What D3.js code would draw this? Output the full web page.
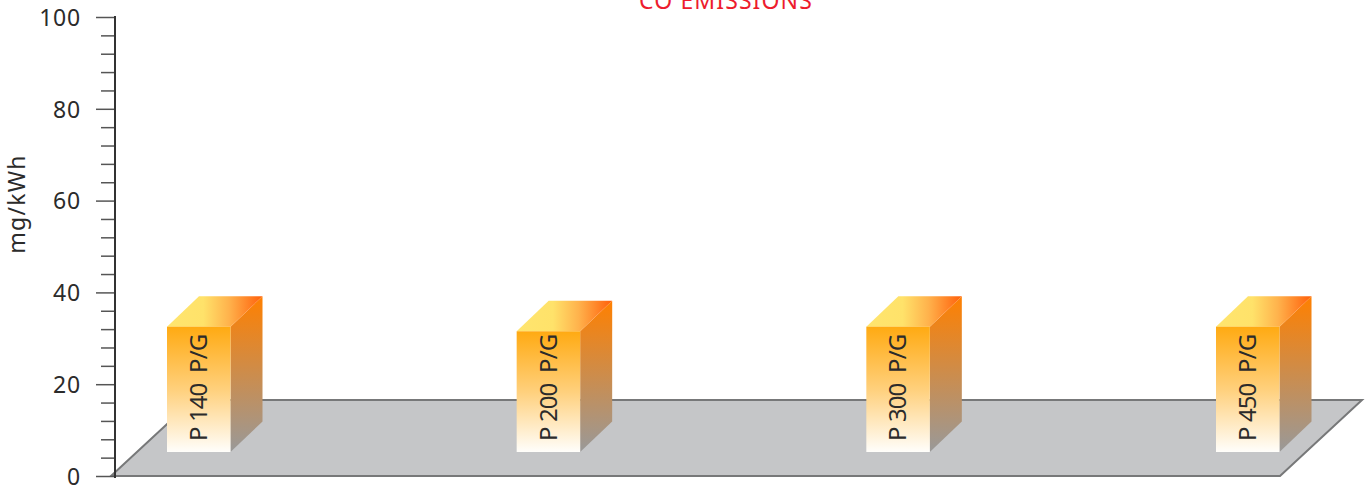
<!DOCTYPE html>
<html><head><meta charset="utf-8">
<script src="https://cdnjs.cloudflare.com/ajax/libs/d3/7.8.5/d3.min.js"></script>
<style>html,body{margin:0;padding:0;background:#fff;overflow:hidden}svg{display:block}text{font-family:"Noto Sans",sans-serif;fill:#2b2b2b}</style>
</head><body><div id="c"></div>
<script>
const categories=["P 140  P/G","P 200  P/G","P 300  P/G","P 450  P/G"];
const values=[27.3,26.3,27.3,27.3];
const majorTicks=[0,20,40,60,80,100];
const minorTicks=[4,8,12,16,24,28,32,36,44,48,52,56,64,68,72,76,84,88,92,96];
const titleText="CO EMISSIONS";
const yAxisLabel="mg/kWh";

const W=1370,H=485,barW=63.5,depthX=32,depthY=30.5,baseShift=24;
const svg=d3.select("#c").append("svg").attr("width",W).attr("height",H);
const y=d3.scaleLinear().domain([0,100]).range([476,17]);
const x=d3.scalePoint().domain(categories).range([167,1216]);

const defs=svg.append("defs");
function grad(id,x2,y2,stops){
  const g=defs.append("linearGradient").attr("id",id).attr("x1",0).attr("y1",0).attr("x2",x2).attr("y2",y2);
  stops.forEach(s=>g.append("stop").attr("offset",s[0]).attr("stop-color",s[1]));
}
grad("front",0,1,[[0,"#ffaa12"],[0.5,"#ffd07c"],[1,"#fffefb"]]);
grad("side",0,1,[[0,"#ff8000"],[1,"#999999"]]);
grad("top",1,0,[[0,"#ffe56e"],[0.38,"#ffe26a"],[0.65,"#ffb24c"],[1,"#ff5f0a"]]);

// floor
svg.append("path")
  .attr("d",d3.line()([[111,y(0)],[1280,y(0)],[1362,400],[193,400]])+"Z")
  .attr("fill","#c5c6c8").attr("stroke","#777879").attr("stroke-width",2).attr("stroke-linejoin","miter");

// axes
const major=d3.axisLeft(y).tickValues(majorTicks).tickSize(19).tickPadding(15).tickFormat(d3.format("d"));
const gMaj=svg.append("g").attr("transform","translate(115,0)").call(major);
gMaj.select(".domain").remove();
gMaj.selectAll("line").attr("stroke","#555").attr("stroke-width",1.5);
gMaj.selectAll("text").attr("font-size",23).attr("fill","#2b2b2b").attr("letter-spacing",0.8).attr("dy","0.36em");
const minor=d3.axisLeft(y).tickValues(minorTicks).tickSize(14).tickFormat("");
const gMin=svg.append("g").attr("transform","translate(115,0)").call(minor);
gMin.select(".domain").remove();
gMin.selectAll("line").attr("stroke","#555").attr("stroke-width",1.5);
svg.append("line").attr("x1",115).attr("x2",115).attr("y1",y(100)-1).attr("y2",y(0)+2).attr("stroke","#333").attr("stroke-width",2);

// bars
const bars=svg.selectAll("g.bar").data(categories.map((c,i)=>({c,v:values[i]}))).enter().append("g").attr("class","bar");
const line=d3.line();
bars.append("path").attr("fill","url(#side)").attr("d",d=>{
  const l=x(d.c)+barW,b=y(0)-baseShift,t=b-(y(0)-y(d.v));
  return line([[l,t],[l+depthX,t-depthY],[l+depthX,b-depthY],[l,b]])+"Z";
});
bars.append("path").attr("fill","url(#top)").attr("d",d=>{
  const l=x(d.c),b=y(0)-baseShift,t=b-(y(0)-y(d.v));
  return line([[l,t],[l+depthX,t-depthY],[l+barW+depthX,t-depthY],[l+barW,t]])+"Z";
});
bars.append("rect").attr("fill","url(#front)")
  .attr("x",d=>x(d.c)).attr("width",barW)
  .attr("y",d=>y(d.v)-baseShift).attr("height",d=>y(0)-y(d.v));
bars.append("text").attr("font-size",24).attr("letter-spacing",-0.9).attr("fill","#2b2b2b").attr("xml:space","preserve").style("white-space","pre")
  .attr("transform",d=>`translate(${x(d.c)+40},441) rotate(-90)`).text(d=>d.c);

// titles
svg.append("text").attr("x",726).attr("y",9).attr("text-anchor","middle").attr("font-size",23)
  .attr("letter-spacing",1.1).style("fill","#ed1c2e").text(titleText);
svg.append("text").attr("font-size",23).attr("letter-spacing",1.2).attr("text-anchor","middle")
  .attr("transform","translate(25,204) rotate(-90)").text(yAxisLabel);
</script></body></html>
